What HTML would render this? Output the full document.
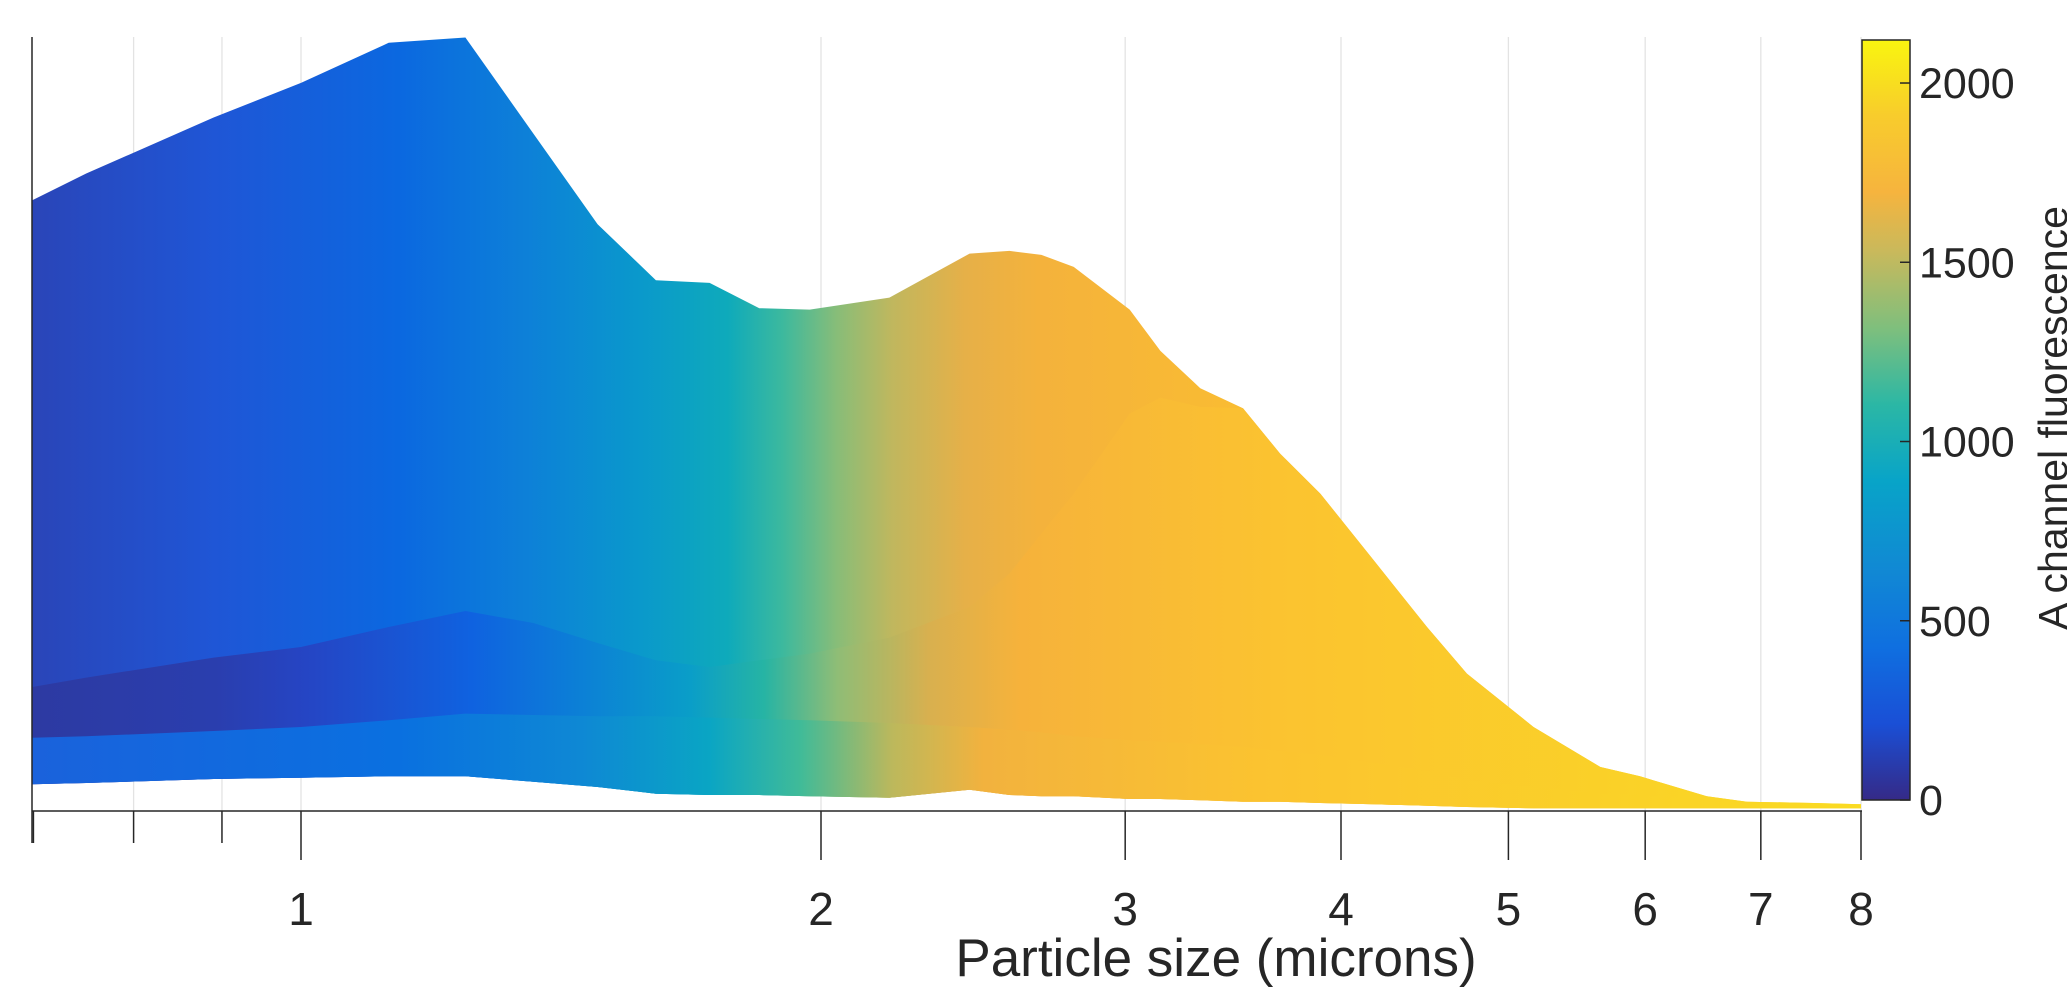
<!DOCTYPE html>
<html><head><meta charset="utf-8"><style>
html,body{margin:0;padding:0;background:#fff;}
svg{display:block;}
text{font-family:"Liberation Sans",sans-serif;fill:#262626;}
</style></head><body>
<svg id="chart" width="2067" height="996" viewBox="0 0 2067 996" xmlns="http://www.w3.org/2000/svg">
<defs>
<linearGradient id="gBack" gradientUnits="userSpaceOnUse" x1="32" y1="0" x2="1862" y2="0">
<stop offset="0" stop-color="#2a45b8"/><stop offset="0.1" stop-color="#1f56d6"/><stop offset="0.2" stop-color="#0b68e0"/>
<stop offset="0.27" stop-color="#0d80d8"/><stop offset="0.33" stop-color="#0a98cc"/><stop offset="0.38" stop-color="#0eaabb"/>
<stop offset="0.41" stop-color="#3cb99e"/><stop offset="0.44" stop-color="#88bd78"/><stop offset="0.47" stop-color="#c0b75e"/>
<stop offset="0.51" stop-color="#e6b048"/><stop offset="0.55" stop-color="#f4b23c"/><stop offset="0.65" stop-color="#f9bb33"/>
<stop offset="0.78" stop-color="#fbc82c"/><stop offset="1" stop-color="#fadb22"/></linearGradient>
<linearGradient id="gFront" gradientUnits="userSpaceOnUse" x1="32" y1="0" x2="1862" y2="0">
<stop offset="0" stop-color="#2d3aa2"/><stop offset="0.1" stop-color="#2a3eae"/><stop offset="0.15" stop-color="#2545c4"/>
<stop offset="0.24" stop-color="#0f62e0"/><stop offset="0.3" stop-color="#0c80d6"/><stop offset="0.36" stop-color="#0a9ec8"/>
<stop offset="0.4" stop-color="#26b4a4"/><stop offset="0.44" stop-color="#8fbd76"/><stop offset="0.49" stop-color="#d8b04f"/>
<stop offset="0.54" stop-color="#f6b23b"/><stop offset="0.68" stop-color="#fbc330"/><stop offset="1" stop-color="#fadb22"/></linearGradient>
<linearGradient id="gStrip" gradientUnits="userSpaceOnUse" x1="32" y1="0" x2="1862" y2="0">
<stop offset="0" stop-color="#1a62dc"/><stop offset="0.2" stop-color="#0a70e0"/><stop offset="0.3" stop-color="#0e88d4"/>
<stop offset="0.37" stop-color="#0aa5c4"/><stop offset="0.42" stop-color="#40bb98"/><stop offset="0.47" stop-color="#bcb85c"/>
<stop offset="0.52" stop-color="#f2b23e"/><stop offset="0.67" stop-color="#fbc330"/><stop offset="1" stop-color="#fadb22"/></linearGradient>
<linearGradient id="gBar" x1="0" y1="1" x2="0" y2="0">
<stop offset="0" stop-color="#352a87"/><stop offset="0.1" stop-color="#1a4fd6"/><stop offset="0.2" stop-color="#0f6fe0"/>
<stop offset="0.3" stop-color="#1188d4"/><stop offset="0.42" stop-color="#08a4c8"/><stop offset="0.52" stop-color="#2bb7a5"/>
<stop offset="0.62" stop-color="#7ebf7d"/><stop offset="0.72" stop-color="#c8b95c"/><stop offset="0.8" stop-color="#f6b43e"/>
<stop offset="0.9" stop-color="#f8cc2c"/><stop offset="1" stop-color="#f9f50f"/></linearGradient>
</defs>
<g id="grid"></g>
<g id="surface"></g>
<g id="axes"></g>
<g id="colorbar"></g>
</svg>
<script>
const sizes=[0.699,0.751,0.890,1.0,1.124,1.245,1.363,1.485,1.605,1.724,1.842,1.970,2.191,2.438,2.571,2.683,2.801,3.018,3.144,3.316,3.510,3.688,3.891,4.178,4.486,4.731,5.170,5.652,5.959,6.514,6.872,7.510,8.0];
const topRidge=[458,478,520,546,576,580,508,440,398,396,377,376,385,418,420,417,408,376,345,317,302,268,238,188,138,103,63,33,26,11,7,6,5];
const midRidge=[93,100,115,123,138,150,141,126,113,108,113,118,130,153,178,208,238,298,310,303,302,268,238,188,138,103,63,33,26,11,7,6,5];
const stripRidge=[55,56,60,63,68,73,72,71,71,70,69,68,66,63,61,59,56,53,52,50,48,45,42,36,30,23,18,13,12,8,6,5,4];
const baseLine=[20,21,24,25,26,26,22,18,13,12,12,11,10,16,12,11,11,9,9,8,7,7,6,5,4,3,2,2,2,2,2,2,2];
const xMajor=[1,2,3,4,5,6,7,8];
const xMinor=[0.7,0.8,0.9];
const cbTicks=[0,500,1000,1500,2000];

const NS="http://www.w3.org/2000/svg";
const X0=32,X1=1862,YB=811,YT=37;
function xs(v){return 301+520*Math.log2(v);}
function ys(h){return YB-h*1.3336;}
function cb(v){return 800-v*(800-40)/2120;}
function mk(tag,attrs,parent){const e=document.createElementNS(NS,tag);for(const k in attrs)e.setAttribute(k,attrs[k]);parent.appendChild(e);return e;}
const grid=document.getElementById('grid'),surf=document.getElementById('surface'),axes=document.getElementById('axes'),cbar=document.getElementById('colorbar');

xMajor.concat(xMinor.slice(1)).forEach(v=>{
  const l=mk('line',{x1:xs(v),x2:xs(v),y1:YT,y2:YB,stroke:'#e3e3e3','stroke-width':1.3},grid);
  
  
});

function band(upper,lower,fill,name){
  let d='';
  sizes.forEach((s,i)=>{d+=(i?'L':'M')+xs(s).toFixed(1)+','+ys(upper[i]).toFixed(1);});
  for(let i=sizes.length-1;i>=0;i--)d+='L'+xs(sizes[i]).toFixed(1)+','+ys(lower[i]).toFixed(1);
  const p=mk('path',{d:d+'Z',fill:fill},surf);
  
  
}
band(topRidge,baseLine,'url(#gBack)','surface-back-sheet');
band(midRidge,baseLine,'url(#gFront)','surface-front-sheet');
band(stripRidge,baseLine,'url(#gStrip)','surface-low-strip');

let a=mk('line',{x1:X0,x2:X1,y1:YB,y2:YB,stroke:'#262626','stroke-width':1.5},axes);


a=mk('line',{x1:X0,x2:X0,y1:YT,y2:843,stroke:'#262626','stroke-width':1.5},axes);


xMajor.forEach(v=>{
  const t=mk('line',{x1:xs(v),x2:xs(v),y1:YB,y2:860,stroke:'#262626','stroke-width':1.5},axes);
  
  
  const l=mk('text',{x:xs(v),y:925,'text-anchor':'middle','font-size':46},axes);
  l.textContent=v;
  
  
});
xMinor.forEach(v=>{
  const t=mk('line',{x1:xs(v),x2:xs(v),y1:YB,y2:843,stroke:'#262626','stroke-width':1.5},axes);
  
  
});
const xt=mk('text',{x:1216,y:976,'text-anchor':'middle','font-size':53},axes);
xt.textContent='Particle size (microns)';



const bar=mk('rect',{x:1862,y:40,width:48,height:760,fill:'url(#gBar)',stroke:'#262626','stroke-width':1.5},cbar);


cbTicks.forEach(v=>{
  const t=mk('line',{x1:1900,x2:1910,y1:cb(v),y2:cb(v),stroke:'#262626','stroke-width':1.5},cbar);
  
  
  const l=mk('text',{x:1919,y:cb(v)+15,'font-size':43},cbar);
  l.textContent=v;
  
  
});
const ct=mk('text',{x:0,y:0,'text-anchor':'middle','font-size':41,transform:'translate(2067,418) rotate(-90)'},cbar);
ct.textContent='A channel fluorescence';


</script>
</body></html>
